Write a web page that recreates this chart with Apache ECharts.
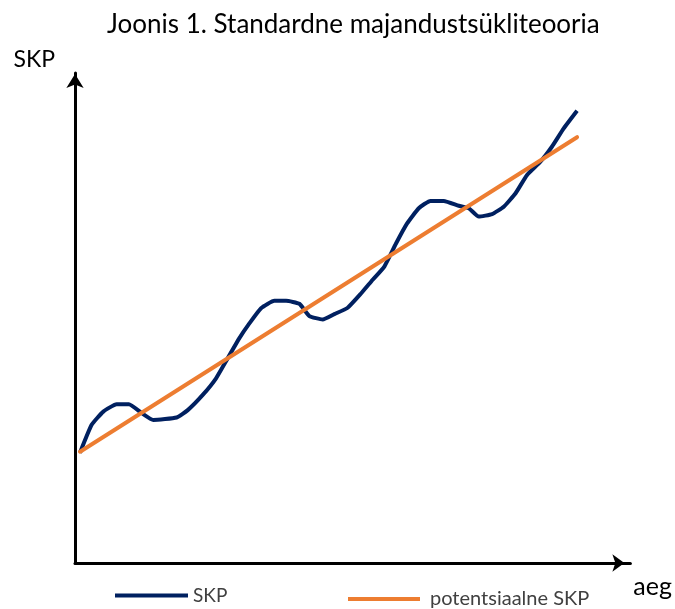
<!DOCTYPE html>
<html>
<head>
<meta charset="utf-8">
<script src="https://cdn.jsdelivr.net/npm/echarts@6/dist/echarts.min.js"></script>
<style>
  html, body { margin: 0; padding: 0; background: #fff; }
  #chart { width: 675px; height: 609px; }
</style>
</head>
<body>
<div id="chart"></div>
<script>
var gdpX = [0.9, 3.0, 5.1, 7.5, 9.7, 12.0, 14.1, 18.3, 20.3, 23.0, 25.4, 27.5, 29.6, 31.4, 33.5, 35.9, 38.0,
    40.4, 42.2, 44.6, 46.7, 49.1, 51.5, 53.6, 55.7, 57.8, 59.8, 61.9, 64.0, 66.4, 69.1, 70.9, 72.7, 75.1,
    77.2, 79.3, 81.4, 83.8, 85.9, 88.0, 90.4];
var gdpY = [22.5, 28.2, 30.9, 32.4, 32.4, 30.6, 29.2, 29.7, 31.2, 34.3, 37.7, 41.8, 45.9, 48.9, 52.0, 53.5, 53.5,
    52.9, 50.4, 49.7, 50.8, 52.1, 55.0, 57.8, 60.5, 65.2, 69.3, 72.4, 73.9, 73.9, 72.9, 72.4, 70.7, 71.2,
    72.7, 75.4, 79.2, 81.9, 85.0, 88.7, 92.3];

// potentsiaalne SKP - straight trend line
var trendX = [0.9, 90.4];
var trendY = [22.7, 86.9];

var titleText = 'Joonis 1. Standardne majandustsükliteooria';
var seriesNames = ['SKP', 'potentsiaalne SKP'];
var fontFamily = 'Lato, "Open Sans", sans-serif';

function pairs(xs, ys) {
    return xs.map(function (x, i) { return [x, ys[i]]; });
}

var chart = echarts.init(document.getElementById('chart'));

var option = {
    animation: false,
    backgroundColor: '#fff',
    title: {
        text: titleText,
        left: 102,
        top: 7,
        textStyle: { fontFamily: fontFamily, fontSize: 26, fontWeight: 'normal', color: '#000' }
    },
    legend: [
        {
            data: [seriesNames[0]],
            left: 115,
            top: 586,
            padding: 0,
            icon: 'rect',
            itemWidth: 73,
            itemHeight: 4,
            textStyle: { fontFamily: fontFamily, fontSize: 19, color: '#404040' }
        },
        {
            data: [seriesNames[1]],
            left: 348,
            top: 589,
            padding: 0,
            icon: 'rect',
            itemWidth: 72,
            itemHeight: 4,
            textStyle: { fontFamily: fontFamily, fontSize: 20, color: '#404040', padding: [0, 0, 0, 5] }
        }
    ],
    grid: { left: 75, right: 43, top: 73, bottom: 46 },
    xAxis: {
        type: 'value',
        min: 0,
        max: 100,
        name: 'aeg',
        nameLocation: 'end',
        nameGap: 3,
        nameTextStyle: {
            fontFamily: fontFamily, fontSize: 25, color: '#000',
            align: 'left', verticalAlign: 'top', padding: [11, 0, 0, 0]
        },
        axisLine: {
            show: true,
            lineStyle: { color: '#000', width: 3 },
            symbol: ['none', 'arrow'],
            symbolSize: [13, 12],
            symbolOffset: [0, -6]
        },
        axisTick: { show: false },
        axisLabel: { show: false },
        splitLine: { show: false }
    },
    yAxis: {
        type: 'value',
        min: 0,
        max: 100,
        name: 'SKP',
        nameLocation: 'end',
        nameGap: 2,
        nameTextStyle: {
            fontFamily: fontFamily, fontSize: 23, color: '#000',
            align: 'right', padding: [0, 20, 0, 0]
        },
        axisLine: {
            show: true,
            lineStyle: { color: '#000', width: 3 },
            symbol: ['none', 'arrow'],
            symbolSize: [13, 14],
            symbolOffset: [0, -1]
        },
        axisTick: { show: false },
        axisLabel: { show: false },
        splitLine: { show: false }
    },
    series: [
        {
            name: seriesNames[0],
            type: 'line',
            data: pairs(gdpX, gdpY),
            showSymbol: false,
            smooth: 0.15,
            lineStyle: { color: '#002060', width: 4 },
            itemStyle: { color: '#002060' },
            z: 2
        },
        {
            name: seriesNames[1],
            type: 'line',
            data: pairs(trendX, trendY),
            showSymbol: false,
            lineStyle: { color: '#ED7D31', width: 4, cap: 'round' },
            itemStyle: { color: '#ED7D31' },
            z: 3
        }
    ]
};

chart.setOption(option);
</script>
</body>
</html>
